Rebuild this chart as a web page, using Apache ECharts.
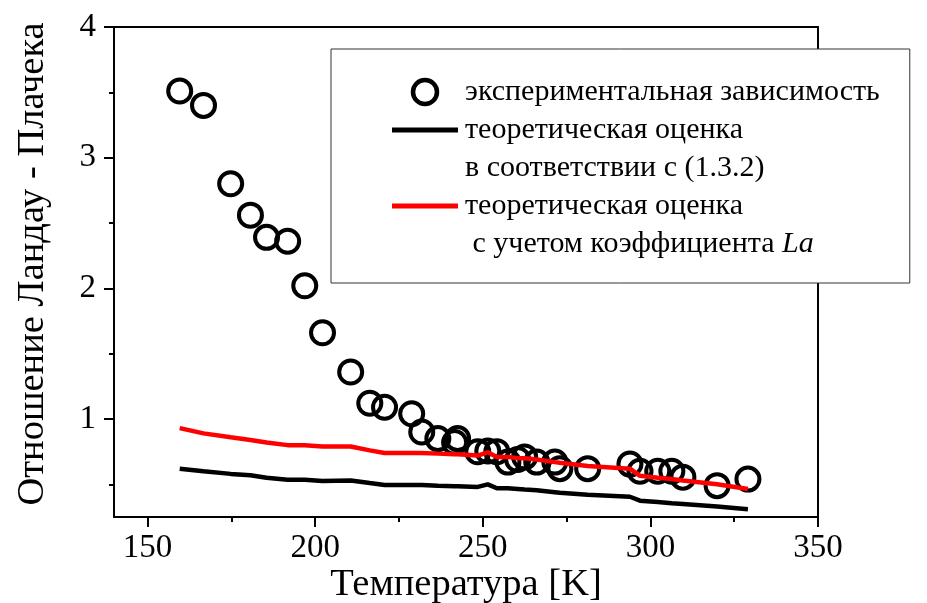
<!DOCTYPE html>
<html>
<head>
<meta charset="utf-8">
<script src="https://cdn.jsdelivr.net/npm/echarts@6/dist/echarts.min.js"></script>
<style>
  html, body { margin: 0; padding: 0; background: #fff; }
  #chart { width: 927px; height: 603px; }
</style>
</head>
<body>
<div id="chart"></div>
<script>
// temperatures of the measured points, K
const temps = [159.6, 166.7, 174.8, 180.7, 185.5, 191.8, 196.9, 202.2, 210.6, 216.3,
  220.7, 228.8, 231.8, 236.6, 241.6, 242.5, 248.5, 251.5, 254.2, 257.5,
  260.4, 262.5, 266.1, 271.5, 273.0, 281.3, 293.9, 296.9, 302.2, 306.4,
  309.7, 319.9, 329.1]
// experiment
const expValues = [3.51, 3.40, 2.80, 2.56, 2.39, 2.36, 2.02, 1.66, 1.36, 1.12,
  1.09, 1.04, 0.90, 0.85, 0.82, 0.85, 0.75, 0.755, 0.75, 0.67,
  0.69, 0.71, 0.67, 0.67, 0.62, 0.62, 0.655, 0.60, 0.60, 0.60,
  0.555, 0.49, 0.54]
// theory (1.3.2)
const theoryValues = [0.62, 0.60, 0.58, 0.57, 0.55, 0.535, 0.535, 0.525, 0.53, 0.51,
  0.495, 0.495, 0.495, 0.49, 0.485, 0.485, 0.48, 0.50, 0.47, 0.47,
  0.465, 0.46, 0.455, 0.44, 0.435, 0.42, 0.405, 0.375, 0.365, 0.355,
  0.35, 0.33, 0.31]
// theory with La
const laValues = [0.93, 0.89, 0.86, 0.84, 0.82, 0.80, 0.80, 0.79, 0.79, 0.76,
  0.74, 0.74, 0.74, 0.735, 0.73, 0.73, 0.72, 0.745, 0.71, 0.71,
  0.70, 0.70, 0.69, 0.67, 0.665, 0.64, 0.62, 0.565, 0.55, 0.54,
  0.53, 0.50, 0.465]

const xMajor = [150, 200, 250, 300, 350]
const xMinor = [175, 225, 275, 325]
const yMajor = [1, 2, 3, 4]
const yMinor = [0.5, 1.5, 2.5, 3.5]

const names = [
  'экспериментальная зависимость',
  'теоретическая оценка',
  'в соответствии с (1.3.2)',
  'теоретическая оценка ',
  'с учетом коэффициента La'
]

const font = 'Liberation Serif'
const pairs = vals => temps.map((t, i) => [t, vals[i]])
const barIcon = 'path://M0,0L66,0L66,5L0,5Z'

const chart = echarts.init(document.getElementById('chart'))

const baseX = { type: 'value', min: 140, max: 350, splitLine: { show: false } }
const baseY = { type: 'value', min: 0.25, max: 4, splitLine: { show: false } }
const line = { show: true, lineStyle: { color: '#000', width: 2 } }

chart.setOption({
  animation: false,
  grid: { left: 114, right: 109, top: 27, bottom: 86, outerBoundsMode: 'none' },
  xAxis: [
    Object.assign({}, baseX, {
      position: 'bottom',
      axisLine: line,
      axisTick: { show: true, inside: false, length: 10, customValues: xMajor, lineStyle: { color: '#000', width: 2 } },
      axisLabel: { customValues: xMajor, color: '#000', fontFamily: font, fontSize: 33, margin: 15 },
      name: 'Температура [K]',
      nameLocation: 'middle',
      nameGap: 48,
      nameMoveOverlap: false,
      nameTextStyle: { color: '#000', fontFamily: font, fontSize: 38.5 }
    }),
    Object.assign({}, baseX, {
      position: 'bottom',
      axisLine: { show: false },
      axisTick: { show: true, length: 5, customValues: xMinor, lineStyle: { color: '#000', width: 2 } },
      axisLabel: { show: false }
    }),
    Object.assign({}, baseX, {
      position: 'top',
      axisLine: line,
      axisTick: { show: false },
      axisLabel: { show: false }
    })
  ],
  yAxis: [
    Object.assign({}, baseY, {
      position: 'left',
      axisLine: line,
      axisTick: { show: true, length: 10, customValues: yMajor, lineStyle: { color: '#000', width: 2 } },
      axisLabel: { customValues: yMajor, color: '#000', fontFamily: font, fontSize: 33, margin: 18 },
      name: 'Отношение Ландау - Плачека',
      nameLocation: 'middle',
      nameGap: 62,
      nameMoveOverlap: false,
      nameTextStyle: { color: '#000', fontFamily: font, fontSize: 38.5, padding: [0, 0, 0, 16] }
    }),
    Object.assign({}, baseY, {
      position: 'left',
      axisLine: { show: false },
      axisTick: { show: true, length: 5, customValues: yMinor, lineStyle: { color: '#000', width: 2 } },
      axisLabel: { show: false }
    }),
    Object.assign({}, baseY, {
      position: 'right',
      axisLine: line,
      axisTick: { show: false },
      axisLabel: { show: false }
    })
  ],
  legend: {
    orient: 'vertical',
    left: 331,
    top: 49,
    padding: [24, 30, 20, 61],
    itemGap: 0,
    itemWidth: 66,
    itemHeight: 24,
    backgroundColor: '#fff',
    borderColor: '#333',
    borderWidth: 1,
    borderRadius: 0,
    selectedMode: false,
    textStyle: {
      color: '#000', fontFamily: font, fontSize: 30, lineHeight: 38, padding: [0, 0, 0, 2],
      rich: {
        i: { fontStyle: 'italic', fontFamily: font, fontSize: 30, lineHeight: 38, color: '#000' }
      }
    },
    formatter: function (name) {
      if (name === names[4]) return ' с учетом коэффициента {i|La}'
      return name
    },
    data: [
      { name: names[0], itemStyle: { color: 'transparent', borderColor: '#000', borderWidth: 4.5 } },
      { name: names[1], icon: barIcon },
      { name: names[2], icon: 'none' },
      { name: names[3], icon: barIcon },
      { name: names[4], icon: 'none' }
    ]
  },
  series: [
    {
      name: names[0],
      type: 'scatter',
      data: pairs(expValues),
      symbol: 'circle',
      symbolSize: 23,
      symbolKeepAspect: true,
      itemStyle: { color: 'transparent', borderColor: '#000', borderWidth: 4, opacity: 1 },
      z: 2
    },
    {
      name: names[1],
      type: 'line',
      data: pairs(theoryValues),
      showSymbol: false,
      symbol: 'none',
      lineStyle: { color: '#000', width: 4.5 },
      itemStyle: { color: '#000' },
      z: 3
    },
    { name: names[2], type: 'line', data: [], symbol: 'none' },
    {
      name: names[3],
      type: 'line',
      data: pairs(laValues),
      showSymbol: false,
      symbol: 'none',
      lineStyle: { color: '#ff0000', width: 4.5 },
      itemStyle: { color: '#ff0000' },
      z: 4
    },
    { name: names[4], type: 'line', data: [], symbol: 'none' }
  ]
})
</script>
</body>
</html>
